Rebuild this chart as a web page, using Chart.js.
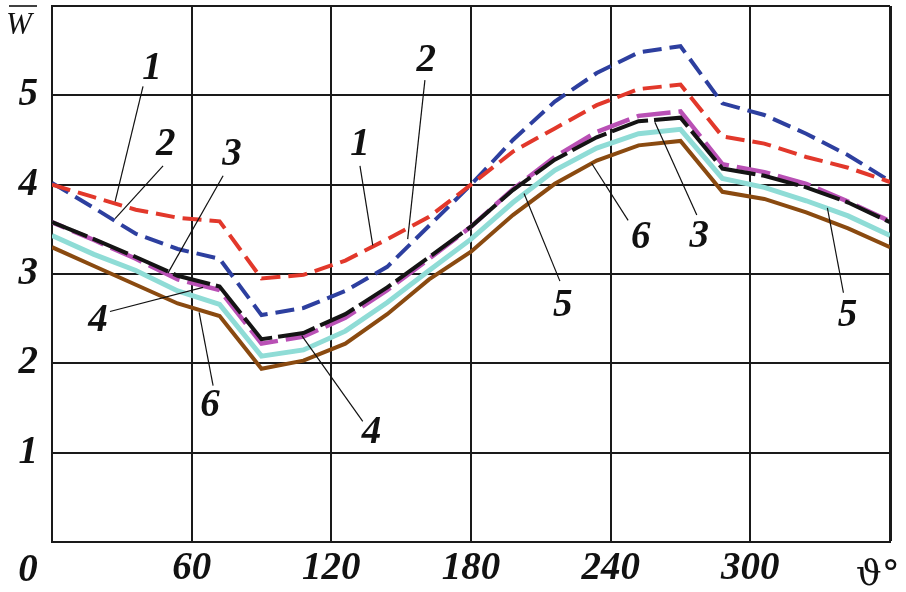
<!DOCTYPE html>
<html>
<head>
<meta charset="utf-8">
<script src="https://cdn.jsdelivr.net/npm/chart.js@4.4.0/dist/chart.umd.min.js"></script>
<style>
  body { margin: 0; background: #fff; }
  #wrap { width: 906px; height: 592px; }
</style>
</head>
<body>
<div id="wrap"><canvas id="myChart" width="906" height="592"></canvas></div>
<script>
// angle, degrees
const angles = [0, 18, 36, 54, 72, 90, 108, 126, 144, 162, 180, 198, 216, 234, 252, 270, 288, 306, 324, 342, 360];

const curve1 = [4.00, 3.86, 3.72, 3.63, 3.59, 2.95, 2.99, 3.15, 3.39, 3.64, 4.00, 4.37, 4.63, 4.89, 5.07, 5.12, 4.54, 4.46, 4.31, 4.19, 4.03];
const curve2 = [4.02, 3.74, 3.45, 3.28, 3.17, 2.54, 2.62, 2.81, 3.08, 3.54, 4.00, 4.50, 4.93, 5.25, 5.48, 5.55, 4.91, 4.78, 4.57, 4.33, 4.04];
const curve3 = [3.58, 3.39, 3.19, 2.98, 2.86, 2.27, 2.34, 2.55, 2.85, 3.19, 3.53, 3.94, 4.28, 4.53, 4.71, 4.75, 4.18, 4.10, 3.97, 3.80, 3.58];
const curve4 = [3.58, 3.38, 3.17, 2.94, 2.82, 2.22, 2.30, 2.51, 2.82, 3.17, 3.53, 3.95, 4.31, 4.59, 4.77, 4.82, 4.23, 4.14, 4.01, 3.81, 3.59];
const curve5 = [3.43, 3.22, 3.04, 2.81, 2.66, 2.08, 2.15, 2.36, 2.68, 3.04, 3.39, 3.80, 4.16, 4.41, 4.57, 4.62, 4.07, 3.97, 3.82, 3.65, 3.43];
const curve6 = [3.30, 3.09, 2.88, 2.67, 2.53, 1.94, 2.03, 2.22, 2.55, 2.94, 3.25, 3.66, 4.01, 4.27, 4.44, 4.49, 3.92, 3.84, 3.69, 3.51, 3.30];

const xTicks = [60, 120, 180, 240, 300];
const yTicks = [1, 2, 3, 4, 5];

// curve number labels and their leader lines, in data units
const curveLabels = [
  { t: '1', x: 43.0, y: 5.30 }, { t: '2', x: 48.9, y: 4.44 }, { t: '3', x: 77.3, y: 4.33 },
  { t: '4', x: 19.8, y: 2.47 }, { t: '6', x: 67.9, y: 1.52 }, { t: '1', x: 132.3, y: 4.44 },
  { t: '2', x: 160.8, y: 5.38 }, { t: '4', x: 137.3, y: 1.22 }, { t: '5', x: 219.4, y: 2.64 },
  { t: '6', x: 252.9, y: 3.40 }, { t: '3', x: 278.1, y: 3.41 }, { t: '5', x: 341.7, y: 2.53 }
];
const leaders = [
  [39.1, 5.10, 27.1, 3.81], [47.7, 4.21, 27.1, 3.62], [73.5, 4.10, 49.8, 3.01],
  [24.9, 2.58, 64.9, 2.85], [69.2, 1.75, 63.2, 2.57], [132.3, 4.21, 137.8, 3.32],
  [160.2, 5.17, 152.8, 3.39], [133.5, 1.35, 107.3, 2.31], [218.2, 2.92, 202.8, 3.90],
  [247.5, 3.60, 231.8, 4.24], [277.0, 3.66, 259.0, 4.70], [340.0, 2.79, 333.1, 3.74]
];

function pts(arr) {
  return angles.map((a, i) => ({ x: a, y: arr[i] }));
}

const serif = '"Liberation Serif", "DejaVu Serif", serif';

const annotate = {
  id: 'annotate',
  afterDraw(chart) {
    const ctx = chart.ctx;
    const xs = chart.scales.x, ys = chart.scales.y;
    ctx.save();
    ctx.strokeStyle = '#111';
    ctx.lineWidth = 1.2;
    leaders.forEach(l => {
      ctx.beginPath();
      ctx.moveTo(xs.getPixelForValue(l[0]), ys.getPixelForValue(l[1]));
      ctx.lineTo(xs.getPixelForValue(l[2]), ys.getPixelForValue(l[3]));
      ctx.stroke();
    });
    ctx.fillStyle = '#111';
    ctx.font = 'italic bold 39px ' + serif;
    ctx.textAlign = 'center';
    ctx.textBaseline = 'middle';
    curveLabels.forEach(c => {
      ctx.fillText(c.t, xs.getPixelForValue(c.x), ys.getPixelForValue(c.y));
    });
    // origin label
    ctx.fillText('0', 28, 571);
    // axis names
    ctx.font = '36px "DejaVu Serif", serif';
    ctx.textAlign = 'left';
    ctx.textBaseline = 'alphabetic';
    ctx.fillText('\u03D1\u00B0', 856, 585);
    ctx.font = 'italic 31px ' + serif;
    ctx.fillText('W', 6, 34);
    ctx.lineWidth = 1.6;
    ctx.beginPath();
    ctx.moveTo(9, 6);
    ctx.lineTo(37, 6);
    ctx.stroke();
    ctx.restore();
  }
};

const ctx = document.getElementById('myChart').getContext('2d');
const chart = new Chart(ctx, {
  type: 'line',
  data: {
    datasets: [
      { label: '1', data: pts(curve1), borderColor: '#e2382b', borderWidth: 4, borderDash: [19, 8], order: 1 },
      { label: '2', data: pts(curve2), borderColor: '#2d3f9f', borderWidth: 4, borderDash: [19, 8], order: 2 },
      { label: '3', data: pts(curve3), borderColor: '#141414', borderWidth: 4, borderDash: [38, 6], order: 3 },
      { label: '4', data: pts(curve4), borderColor: '#b950b5', borderWidth: 4.5, borderDash: [34, 8], borderDashOffset: 20, order: 4 },
      { label: '5', data: pts(curve5), borderColor: '#8fdcd6', borderWidth: 5, order: 5 },
      { label: '6', data: pts(curve6), borderColor: '#8a4a10', borderWidth: 4, order: 6 }
    ]
  },
  options: {
    responsive: false,
    animation: false,
    events: [],
    layout: { padding: { top: 6, right: 16, left: 0, bottom: 0 } },
    elements: { point: { radius: 0 }, line: { tension: 0, fill: false } },
    plugins: { legend: { display: false }, tooltip: { enabled: false } },
    scales: {
      x: {
        type: 'linear',
        min: 0,
        max: 360,
        afterFit(s) { s.height = 50; s.paddingLeft = 0; s.paddingRight = 0; },
        afterBuildTicks(s) { s.ticks = [0, 60, 120, 180, 240, 300, 360].map(v => ({ value: v })); },
        ticks: {
          color: '#111',
          padding: 4,
          maxRotation: 0,
          font: { family: serif, size: 39, style: 'italic', weight: 'bold' },
          callback: v => xTicks.includes(v) ? String(v) : ''
        },
        grid: {
          color: '#1a1a1a',
          lineWidth: c => c.tick && c.tick.value === 360 ? 3 : 2,
          drawTicks: false
        },
        border: { display: true, color: '#1a1a1a', width: 2 }
      },
      y: {
        min: 0,
        max: 6,
        afterFit(s) { s.width = 52; s.paddingTop = 0; s.paddingBottom = 0; },
        afterBuildTicks(s) { s.ticks = [0, 1, 2, 3, 4, 5, 6].map(v => ({ value: v })); },
        ticks: {
          color: '#111',
          padding: 14,
          font: { family: serif, size: 39, style: 'italic', weight: 'bold' },
          callback: v => yTicks.includes(v) ? String(v) : ''
        },
        grid: { color: '#1a1a1a', lineWidth: 2, drawTicks: false },
        border: { display: true, color: '#1a1a1a', width: 2 }
      }
    }
  },
  plugins: [annotate]
});
</script>
</body>
</html>
